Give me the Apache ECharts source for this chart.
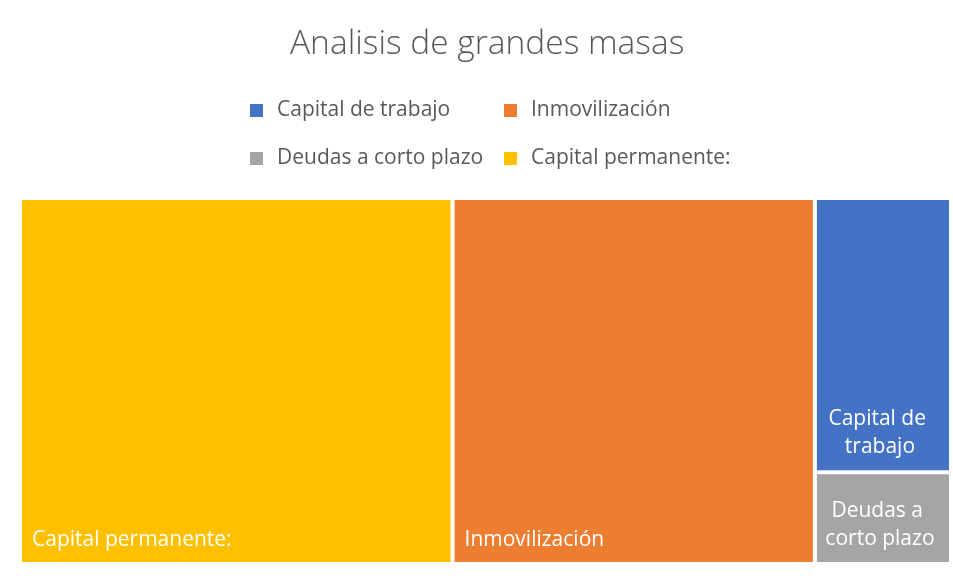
<!DOCTYPE html>
<html>
<head>
<meta charset="utf-8">
<script src="https://cdn.jsdelivr.net/npm/echarts@6/dist/echarts.min.js"></script>
<style>html,body{margin:0;padding:0;background:#fff;}#chart{width:953px;height:576px;}</style>
</head>
<body>
<div id="chart"></div>
<script>
// Data
const categories = ['Capital permanente:', 'Inmovilización', 'Capital de trabajo', 'Deudas a corto plazo'];
const values = [464.6, 389.2, 109.6, 36.6];
const legendColumnA = ['Capital de trabajo', 'Deudas a corto plazo'];
const legendColumnB = ['Inmovilización', 'Capital permanente:'];

// Styles
const colorMap = {
  'Capital de trabajo': '#4472C4',
  'Inmovilización': '#ED7D31',
  'Deudas a corto plazo': '#A5A5A5',
  'Capital permanente:': '#FFC000'
};
const FONT = '"Open Sans", "Noto Sans", sans-serif';
const wrapped = { 'Capital de trabajo': true, 'Deudas a corto plazo': true };

const treeData = categories.map((name, i) => {
  const item = { name: name, value: values[i], itemStyle: { color: colorMap[name] } };
  if (wrapped[name]) {
    item.label = { position: 'insideBottom', align: 'center', overflow: 'break', width: 124, distance: 4, lineHeight: 28, offset: [-3, 0] };
  }
  return item;
});

const allNames = legendColumnA.concat(legendColumnB);
const dummySeries = allNames.map(n => ({
  name: n, type: 'line', data: [], itemStyle: { color: colorMap[n] }, lineStyle: { color: colorMap[n] }
}));

const legendBase = {
  orient: 'vertical', icon: 'rect', itemWidth: 13, itemHeight: 13, itemGap: 27,
  textStyle: { color: '#595959', fontSize: 21, fontFamily: FONT, padding: [0, 0, 0, 9] },
  selectedMode: false
};

const chart = echarts.init(document.getElementById('chart'));
chart.setOption({
  backgroundColor: '#fff',
  animation: false,
  title: {
    text: 'Analisis de grandes masas', left: 285, top: 22,
    textStyle: { color: '#595959', fontSize: 33.5, fontWeight: 300, fontFamily: FONT }
  },
  legend: [
    Object.assign({}, legendBase, { data: legendColumnA, left: 245, top: 95 }),
    Object.assign({}, legendBase, { data: legendColumnB, left: 499, top: 95 })
  ],
  grid: { show: false, left: 0, top: 0, width: 1, height: 1 },
  xAxis: { show: false, type: 'value' },
  yAxis: { show: false, type: 'value' },
  series: dummySeries.concat([{
    type: 'treemap',
    left: 22, top: 200, width: 927, height: 362,
    roam: false, nodeClick: false,
    breadcrumb: { show: false },
    label: {
      show: true, position: 'insideBottomLeft', distance: 8, offset: [-3, 2],
      color: '#fff', fontSize: 21, fontFamily: FONT, overflow: 'break'
    },
    upperLabel: { show: false },
    itemStyle: { borderWidth: 0, gapWidth: 4, borderColor: '#fff' },
    levels: [
      { itemStyle: { borderWidth: 0, gapWidth: 4, borderColor: '#fff' } },
      { itemStyle: { borderWidth: 0 } }
    ],
    emphasis: { disabled: true },
    data: treeData
  }])
});
</script>
</body>
</html>
